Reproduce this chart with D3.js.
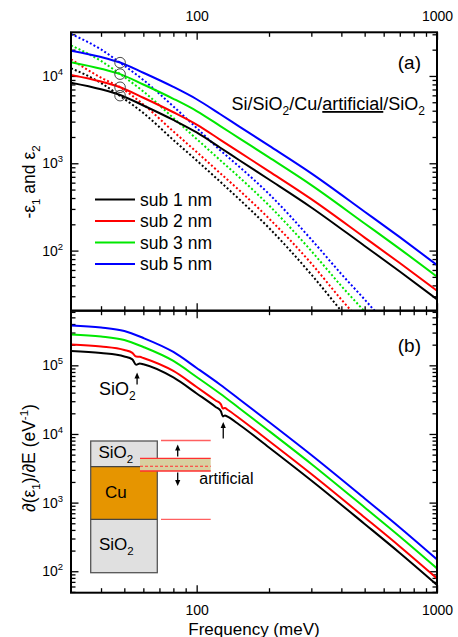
<!DOCTYPE html>
<html><head><meta charset="utf-8">
<script src="https://cdn.jsdelivr.net/npm/d3@7/dist/d3.min.js"></script>
<style>
html,body{margin:0;padding:0;background:#fff;}
svg text{font-family:"Liberation Sans",Arial,Helvetica,sans-serif;fill:#000;}
</style></head><body>
<svg id="chart" width="458" height="637"></svg>
<script>
// ---------------- data ----------------
const seriesNames = ["sub 1 nm", "sub 2 nm", "sub 3 nm", "sub 5 nm"];
const seriesColors = ["#000000", "#ff0000", "#00e800", "#0000ff"];

// panel (a): -eps1 (solid)
const freqA = [30, 40, 48, 60, 80, 100, 125, 150, 200, 300, 500, 700, 1000];
const negEps1_1nm = [8380, 7042, 6058, 4592, 3133, 2253, 1517, 1091, 652, 312, 113, 57.7, 27.7];
const negEps1_2nm = [10270, 8630, 7420, 5630, 3840, 2770, 1870, 1350, 808, 388, 141, 72, 34.8];
const negEps1_3nm = [14400, 12110, 10480, 7990, 5480, 3965, 2685, 1942, 1167, 562, 204.5, 104.7, 50.3];
const negEps1_5nm = [19490, 16480, 14240, 10880, 7490, 5410, 3670, 2650, 1591, 767, 279, 142.5, 68.4];

// panel (a): eps2 (dotted)
const freqE2 = [30, 40, 48, 60, 80, 100, 125, 150, 200, 300, 400, 500, 700];
const eps2_1nm = [12250, 8315, 5900, 3768, 1849, 1077, 619, 390, 181.5, 53.2, 20.3, 9.5, 2.9];
const eps2_2nm = [15535, 9560, 7425, 4715, 2313, 1347, 774, 494, 233, 71.2, 27.5, 13.7, 4.3];
const eps2_3nm = [22360, 14850, 10540, 6645, 3304, 1898, 1091, 697, 329, 98.9, 39.3, 20, 6.7];
const eps2_5nm = [30270, 20120, 14200, 9000, 4474, 2537, 1420, 919, 445, 134, 53.9, 27.5, 9.5];

// crossing markers (circles)
const crossFreq = 48;
const crossVals = [5950, 7420, 10500, 14200];

// panel (b): d(eps1)/dE
const freqB = [30, 40, 50, 60, 80, 100, 125, 150, 200, 300, 500, 700, 1000];
const dEps_5nm = [380600, 355900, 316500, 250200, 156500, 91500, 52600, 32360, 14960, 4943, 1150, 434.5, 148.6];
const dEps_3nm = [281500, 263200, 234100, 185000, 115700, 67700, 38900, 23930, 11060, 3656, 850, 321, 109.9];
const freqBk = [30, 40, 50, 54, 56, 58, 60, 80, 100, 120, 126, 128.5, 131, 135, 150, 200, 300, 500, 700, 1000];
const dEps_2nm = [201200, 188200, 167300, 151800, 134000, 133000, 127900, 82740, 48380, 30760, 27260, 23510, 23910, 22370, 17110, 7910, 2613, 608, 229.7, 78.6];
const dEps_1nm = [161800, 151300, 134600, 122100, 102000, 106400, 103600, 66530, 38900, 24730, 21630, 17990, 18600, 17690, 13750, 6360, 2101, 489, 184.7, 63.2];

// phonon markers (SiO2 / artificial)
const markerFreqs = [56.5, 129];

// axes
const xDomain = [30, 1000];
const yDomainA = [20.5, 31620];
const yDomainB = [48.7, 625000];
const xTickMajor = [100, 1000];
const yTickMajorA = [100, 1000, 10000];
const yTickMajorB = [100, 1000, 10000, 100000];

// ---------------- layout ----------------
const L = 71, R = 437, TA = 32.3, MID = 310.7, BB = 592.7;
const svg = d3.select("#chart");

const x = d3.scaleLog().domain(xDomain).range([L, R]);
const yA = d3.scaleLog().domain(yDomainA).range([MID, TA]);
const yB = d3.scaleLog().domain(yDomainB).range([BB, MID]);

function minorTicks(domain, major) {
  const out = [];
  for (let d = 1; d <= 1e6; d *= 10) {
    for (let k = 1; k <= 9; k++) {
      const v = k * d;
      if (v > domain[0] * 1.0001 && v < domain[1] * 0.9999 && !major.includes(v)) out.push(v);
    }
  }
  return out;
}
const xMinor = minorTicks(xDomain, xTickMajor);
const yMinorA = minorTicks(yDomainA, yTickMajorA);
const yMinorB = minorTicks(yDomainB, yTickMajorB);

const defs = svg.append("defs");
defs.append("clipPath").attr("id", "clipA").append("rect")
  .attr("x", L).attr("y", TA).attr("width", R - L).attr("height", MID - TA);
defs.append("clipPath").attr("id", "clipB").append("rect")
  .attr("x", L).attr("y", MID).attr("width", R - L).attr("height", BB - MID);

function powFormat(sel) {
  sel.each(function (d) {
    const t = d3.select(this);
    const e = Math.round(Math.log10(d));
    t.text(null);
    t.append("tspan").text("10");
    t.append("tspan").attr("dy", "-6").attr("font-size", "9.5px").text(e);
  });
}

function drawAxis(orient, scale, pos, major, minor, showLabels, pad) {
  const mk = { left: d3.axisLeft, right: d3.axisRight, top: d3.axisTop, bottom: d3.axisBottom }[orient];
  const tr = (orient === "left" || orient === "right") ? `translate(${pos},0)` : `translate(0,${pos})`;
  const gm = svg.append("g").attr("transform", tr)
    .call(mk(scale).tickValues(minor).tickSizeInner(-4.5).tickSizeOuter(0).tickFormat(""));
  const gM = svg.append("g").attr("transform", tr)
    .call(mk(scale).tickValues(major).tickSizeInner(-7.5).tickSizeOuter(0).tickPadding(pad || 3)
      .tickFormat(showLabels ? (d => d) : ""));
  [gm, gM].forEach(g => {
    g.attr("font-family", null).attr("font-size", null);
    g.select(".domain").remove();
    g.selectAll("line").attr("stroke", "#000").attr("stroke-width", 1.3);
  });
  gM.selectAll("text").attr("font-size", "14px").attr("fill", "#000");
  return gM;
}

// Panel A axes
const aLeft = drawAxis("left", yA, L, yTickMajorA, yMinorA, true, 8);
aLeft.selectAll("text").call(powFormat);
drawAxis("right", yA, R, yTickMajorA, yMinorA, false);
drawAxis("top", x, TA, xTickMajor, xMinor, true, 11.6);
drawAxis("bottom", x, MID, xTickMajor, xMinor, false);
// Panel B axes
const bLeft = drawAxis("left", yB, L, yTickMajorB, yMinorB, true, 8);
bLeft.selectAll("text").call(powFormat);
drawAxis("right", yB, R, yTickMajorB, yMinorB, false);
drawAxis("top", x, MID, xTickMajor, xMinor, false);
drawAxis("bottom", x, BB, xTickMajor, xMinor, true, 12.8);

// ---------------- panel (a) curves ----------------
const gA = svg.append("g").attr("clip-path", "url(#clipA)");
const lineA = d3.line().x(d => x(d[0])).y(d => yA(d[1])).curve(d3.curveMonotoneX);
const eps1Sets = [negEps1_1nm, negEps1_2nm, negEps1_3nm, negEps1_5nm];
const eps2Sets = [eps2_1nm, eps2_2nm, eps2_3nm, eps2_5nm];
eps2Sets.forEach((vals, i) => {
  gA.append("path").datum(freqE2.map((f, j) => [f, vals[j]]))
    .attr("d", lineA).attr("fill", "none").attr("stroke", seriesColors[i])
    .attr("stroke-width", 2).attr("stroke-dasharray", "2,2.2");
});
eps1Sets.forEach((vals, i) => {
  gA.append("path").datum(freqA.map((f, j) => [f, vals[j]]))
    .attr("d", lineA).attr("fill", "none").attr("stroke", seriesColors[i])
    .attr("stroke-width", 2);
});
crossVals.forEach(v => {
  gA.append("circle").attr("cx", x(crossFreq)).attr("cy", yA(v)).attr("r", 5.3)
    .attr("fill", "none").attr("stroke", "#333").attr("stroke-width", 0.9);
});

// ---------------- panel (b) curves ----------------
const gB = svg.append("g").attr("clip-path", "url(#clipB)");
const lineB = d3.line().x(d => x(d[0])).y(d => yB(d[1])).curve(d3.curveMonotoneX);
const bSets = [[freqBk, dEps_1nm], [freqBk, dEps_2nm], [freqB, dEps_3nm], [freqB, dEps_5nm]];
bSets.forEach(([fs, vals], i) => {
  gB.append("path").datum(fs.map((f, j) => [f, vals[j]]))
    .attr("d", lineB).attr("fill", "none").attr("stroke", seriesColors[i])
    .attr("stroke-width", 2);
});

// frames
svg.append("rect").attr("x", L).attr("y", TA).attr("width", R - L).attr("height", MID - TA)
  .attr("fill", "none").attr("stroke", "#000").attr("stroke-width", 2);
svg.append("rect").attr("x", L).attr("y", MID).attr("width", R - L).attr("height", BB - MID)
  .attr("fill", "none").attr("stroke", "#000").attr("stroke-width", 2);

// ---------------- legend ----------------
const leg = svg.append("g");
seriesNames.forEach((n, i) => {
  const yy = 199.5 + i * 21.5;
  leg.append("line").attr("x1", 95).attr("x2", 135).attr("y1", yy).attr("y2", yy)
    .attr("stroke", seriesColors[i]).attr("stroke-width", 2);
  leg.append("text").attr("x", 140).attr("y", yy + 6).attr("font-size", "17.5px").text(n);
});

// ---------------- texts ----------------
svg.append("text").attr("x", 421).attr("y", 69).attr("text-anchor", "end").attr("font-size", "19px").text("(a)");
svg.append("text").attr("x", 421).attr("y", 351.5).attr("text-anchor", "end").attr("font-size", "19px").text("(b)");

const ttl = svg.append("text").attr("x", 425).attr("y", 110).attr("text-anchor", "end").attr("font-size", "18px");
ttl.append("tspan").text("Si/SiO");
ttl.append("tspan").attr("dy", 5).attr("font-size", "12px").text("2");
ttl.append("tspan").attr("dy", -5).text("/Cu/");
ttl.append("tspan").attr("text-decoration", "underline").style("text-decoration", "underline").text("artificial");
ttl.append("tspan").text("/SiO");
ttl.append("tspan").attr("dy", 5).attr("font-size", "12px").text("2");

const ylA = svg.append("text").attr("transform", "translate(35,182) rotate(-90)")
  .attr("text-anchor", "middle").attr("font-size", "17.5px");
ylA.append("tspan").text("-ε");
ylA.append("tspan").attr("dy", 5).attr("font-size", "11.5px").text("1");
ylA.append("tspan").attr("dy", -5).text(" and ε");
ylA.append("tspan").attr("dy", 5).attr("font-size", "11.5px").text("2");

const ylB = svg.append("text").attr("transform", "translate(35,458) rotate(-90)")
  .attr("text-anchor", "middle").attr("font-size", "17.5px");
ylB.append("tspan").text("∂(ε");
ylB.append("tspan").attr("dy", 5).attr("font-size", "11.5px").text("1");
ylB.append("tspan").attr("dy", -5).text(")/∂E (eV");
ylB.append("tspan").attr("dy", -7).attr("font-size", "11.5px").text("-1");
ylB.append("tspan").attr("dy", 7).text(")");

svg.append("text").attr("x", 254).attr("y", 634.5).attr("text-anchor", "middle")
  .attr("font-size", "17px").text("Frequency (meV)");

// SiO2 phonon annotation in (b)
const ann = svg.append("text").attr("x", 99).attr("y", 395).attr("font-size", "18px");
ann.append("tspan").text("SiO");
ann.append("tspan").attr("dy", 5).attr("font-size", "12px").text("2");

function arrowUp(xx, y0, y1) {
  svg.append("line").attr("x1", xx).attr("x2", xx).attr("y1", y0).attr("y2", y1 + 4)
    .attr("stroke", "#000").attr("stroke-width", 1.3);
  svg.append("path").attr("d", `M${xx},${y1} L${xx - 2.6},${y1 + 6} L${xx + 2.6},${y1 + 6} Z`).attr("fill", "#000");
}
function arrowDown(xx, y0, y1) {
  svg.append("line").attr("x1", xx).attr("x2", xx).attr("y1", y0).attr("y2", y1 - 4)
    .attr("stroke", "#000").attr("stroke-width", 1.3);
  svg.append("path").attr("d", `M${xx},${y1} L${xx - 2.6},${y1 - 6} L${xx + 2.6},${y1 - 6} Z`).attr("fill", "#000");
}
arrowUp(x(markerFreqs[0]), 384.5, 372.5);
arrowUp(x(markerFreqs[1]), 438.5, 422);

// ---------------- inset (layer stack) ----------------
const ins = svg.append("g");
const sx = 90.7, sw = 66.6, sTop = 441, sCu = 466.7, sCu2 = 519.3, sBot = 572.7;
ins.append("rect").attr("x", sx).attr("y", sTop).attr("width", sw).attr("height", sCu - sTop).attr("fill", "#e0e0e0");
ins.append("rect").attr("x", sx).attr("y", sCu).attr("width", sw).attr("height", sCu2 - sCu).attr("fill", "#e69500");
ins.append("rect").attr("x", sx).attr("y", sCu2).attr("width", sw).attr("height", sBot - sCu2).attr("fill", "#e0e0e0");
ins.append("rect").attr("x", sx).attr("y", sTop).attr("width", sw).attr("height", sBot - sTop)
  .attr("fill", "none").attr("stroke", "#555").attr("stroke-width", 1.3);
[sCu, sCu2].forEach(yy => ins.append("line").attr("x1", sx).attr("x2", sx + sw).attr("y1", yy).attr("y2", yy)
  .attr("stroke", "#444").attr("stroke-width", 1.3));
// artificial band
ins.append("rect").attr("x", 140).attr("y", 458.3).attr("width", 70.7).attr("height", 12.7).attr("fill", "#d8d0a0");
[458.3, 471].forEach(yy => ins.append("line").attr("x1", 140).attr("x2", 210.7).attr("y1", yy).attr("y2", yy)
  .attr("stroke", "#ff3030").attr("stroke-width", 1.3));
ins.append("line").attr("x1", 140).attr("x2", 210.7).attr("y1", 466.3).attr("y2", 466.3)
  .attr("stroke", "#ff3030").attr("stroke-width", 1.1).attr("stroke-dasharray", "3,2");
[440.5, 519.3].forEach(yy => ins.append("line").attr("x1", 161).attr("x2", 210.7).attr("y1", yy).attr("y2", yy)
  .attr("stroke", "#ff6060").attr("stroke-width", 1.3));
arrowUp(177.7, 456.5, 444.5);
arrowDown(177.7, 472.5, 486);

function layerLabel(xx, yy, main, sub) {
  const t = ins.append("text").attr("x", xx).attr("y", yy).attr("font-size", "17px");
  t.append("tspan").text(main);
  if (sub) t.append("tspan").attr("dy", 5).attr("font-size", "11.5px").text(sub);
}
layerLabel(98.5, 458, "SiO", "2");
layerLabel(105, 498, "Cu", null);
layerLabel(99, 550, "SiO", "2");
ins.append("text").attr("x", 199.3).attr("y", 483.5).attr("font-size", "16px").text("artificial");
</script>
</body></html>
